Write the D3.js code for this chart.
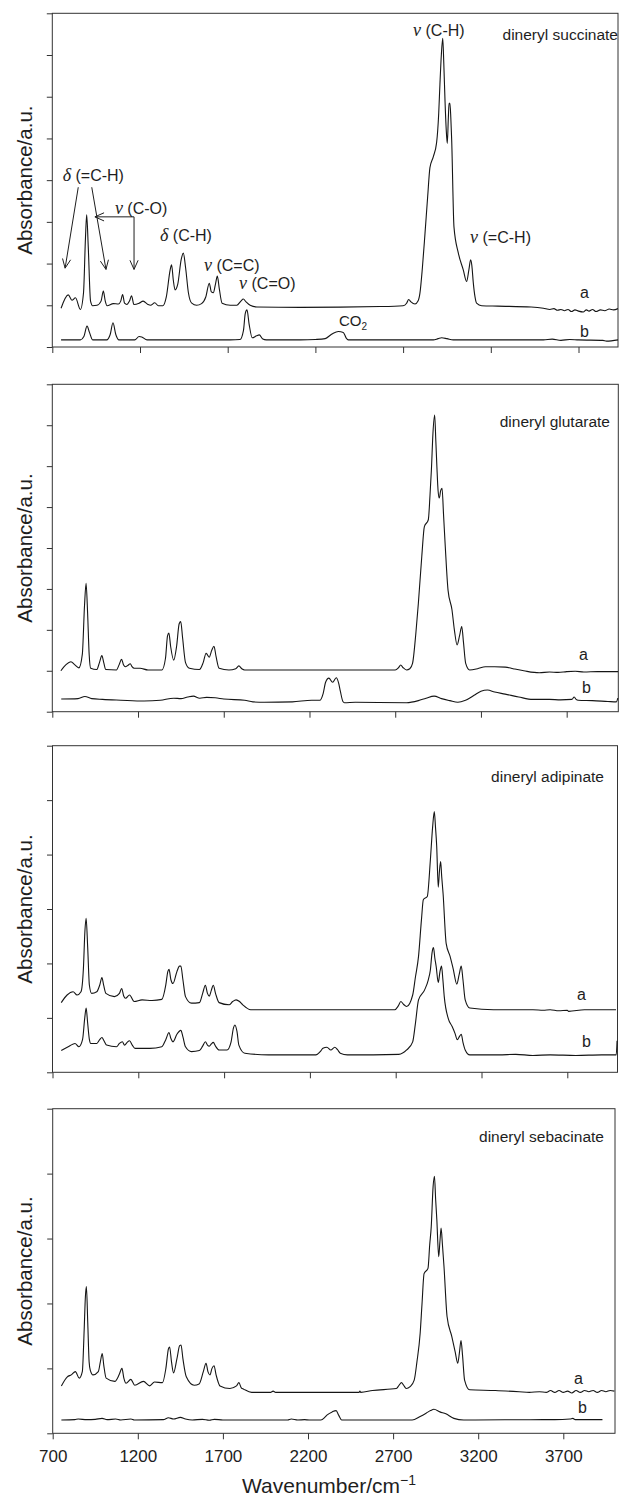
<!DOCTYPE html>
<html>
<head>
<meta charset="utf-8">
<script src="https://cdn.jsdelivr.net/npm/d3@7"></script>
<style>
body { margin: 0; background: #fff; }
svg { display: block; }
text { font-family: "Liberation Sans", Arial, sans-serif; fill: #1e1e1e; }
</style>
</head>
<body>
<svg id="chart" width="619" height="1498"></svg>
<script>
// compound names, one per panel (top to bottom)
var compounds = ["dineryl succinate", "dineryl glutarate", "dineryl adipinate", "dineryl sebacinate"]
var xTickValues = [700, 1200, 1700, 2200, 2700, 3200, 3700]
var yTickCounts = [8, 8, 6, 5]

// spectra: [wavenumber, absorbance (a.u.)], a = upper trace, b = lower trace
var succinateA = [[750,0.93],[791,1.25],[812,1.12],[832,1.18],[860,0.9],[878,1.3],[889,2.6],[896,3.17],[905,2.4],[918,1.1],[930,0.99],[955,1.0],[978,1.1],[991,1.34],[1002,1.1],[1012,0.99],[1048,1.04],[1077,1.03],[1090,1.1],[1101,1.26],[1112,1.05],[1125,1.02],[1140,1.1],[1152,1.23],[1165,1.02],[1195,1.05],[1218,1.1],[1245,1.02],[1260,1.0],[1284,1.06],[1305,0.99],[1331,0.99],[1350,1.2],[1372,1.85],[1380,1.97],[1390,1.6],[1400,1.37],[1415,1.5],[1435,2.1],[1447,2.25],[1460,1.9],[1476,1.3],[1495,1.05],[1523,1.0],[1551,1.04],[1575,1.2],[1595,1.53],[1607,1.32],[1618,1.3],[1630,1.5],[1641,1.7],[1652,1.4],[1668,1.05],[1714,1.0],[1752,1.0],[1775,1.1],[1789,1.15],[1805,1.08],[1828,1.0],[1866,0.96],[2113,0.95],[2569,0.97],[2700,0.99],[2720,1.05],[2732,1.14],[2745,1.08],[2768,1.03],[2785,1.1],[2796,1.29],[2810,1.9],[2825,2.73],[2840,3.6],[2853,4.3],[2872,4.56],[2891,4.9],[2903,5.6],[2910,6.3],[2918,7.0],[2926,7.4],[2932,6.8],[2939,5.9],[2946,5.2],[2952,4.88],[2958,5.5],[2962,5.84],[2967,5.84],[2972,5.5],[2977,4.96],[2990,2.88],[3015,2.25],[3043,1.85],[3062,1.57],[3075,1.85],[3085,2.09],[3092,1.95],[3100,1.55],[3110,1.2],[3119,1.05],[3148,0.99],[3240,0.98],[3430,0.96],[3500,0.93],[3537,0.9],[3560,0.92],[3580,0.88],[3600,0.9],[3620,0.87],[3640,0.9],[3660,0.85],[3680,0.89],[3700,0.86],[3727,0.84],[3745,0.89],[3760,0.86],[3780,0.9],[3800,0.85],[3825,0.89],[3850,0.87],[3875,0.91],[3900,0.89],[3925,0.92]]
var succinateB = [[750,0.17],[860,0.17],[880,0.25],[898,0.5],[912,0.35],[930,0.17],[1010,0.17],[1030,0.3],[1046,0.58],[1062,0.3],[1080,0.17],[1170,0.17],[1195,0.25],[1210,0.24],[1240,0.17],[1714,0.17],[1770,0.18],[1790,0.4],[1800,0.8],[1810,0.89],[1822,0.55],[1840,0.22],[1865,0.27],[1880,0.29],[1900,0.19],[1920,0.17],[2113,0.17],[2200,0.18],[2256,0.2],[2290,0.3],[2302,0.33],[2331,0.37],[2359,0.35],[2375,0.22],[2387,0.17],[2872,0.17],[2900,0.2],[2920,0.22],[2950,0.2],[2986,0.17],[3500,0.17],[3550,0.19],[3600,0.16],[3650,0.18],[3700,0.17],[3839,0.16],[3860,0.14],[3925,0.17]]

var glutarateA = [[750,1.0],[780,1.15],[809,1.22],[830,1.15],[855,1.07],[875,1.4],[888,2.6],[897,3.14],[906,2.4],[915,1.4],[924,1.06],[959,1.03],[975,1.2],[989,1.37],[1000,1.2],[1012,1.03],[1074,1.02],[1090,1.15],[1104,1.28],[1115,1.15],[1127,1.1],[1140,1.13],[1155,1.17],[1165,1.1],[1178,1.06],[1212,1.06],[1258,1.02],[1339,1.02],[1360,1.3],[1372,1.85],[1380,1.92],[1390,1.6],[1408,1.26],[1425,1.6],[1440,2.15],[1449,2.2],[1460,1.8],[1477,1.2],[1500,1.06],[1558,1.03],[1580,1.2],[1597,1.43],[1606,1.38],[1615,1.33],[1630,1.5],[1643,1.6],[1655,1.35],[1673,1.06],[1730,1.02],[1770,1.05],[1788,1.12],[1805,1.05],[1822,1.02],[2605,1.02],[2700,1.02],[2720,1.08],[2732,1.14],[2745,1.08],[2766,1.02],[2785,1.05],[2801,1.18],[2820,1.9],[2835,2.65],[2855,3.8],[2870,4.52],[2893,4.69],[2903,5.3],[2911,5.91],[2920,6.8],[2930,7.25],[2937,6.6],[2943,5.99],[2950,5.4],[2957,5.22],[2965,5.4],[2973,5.46],[2982,4.8],[2992,4.03],[3008,2.97],[3031,2.49],[3045,2.0],[3061,1.63],[3075,1.85],[3088,2.08],[3098,1.7],[3111,1.18],[3134,1.02],[3180,1.05],[3226,1.1],[3280,1.1],[3342,1.09],[3388,1.05],[3450,1.0],[3540,0.95],[3600,0.97],[3650,0.96],[3700,0.98],[3750,0.99],[3800,0.97],[3880,0.98],[3950,0.98],[4000,0.98]]
var glutarateB = [[752,0.31],[850,0.32],[890,0.37],[930,0.32],[993,0.3],[1100,0.28],[1235,0.26],[1330,0.28],[1408,0.33],[1450,0.32],[1490,0.36],[1523,0.38],[1560,0.33],[1600,0.35],[1650,0.34],[1700,0.31],[1822,0.28],[1870,0.24],[1937,0.23],[2100,0.24],[2213,0.28],[2260,0.28],[2280,0.45],[2294,0.72],[2313,0.82],[2335,0.72],[2356,0.83],[2370,0.7],[2380,0.5],[2395,0.25],[2404,0.22],[2467,0.23],[2766,0.22],[2835,0.27],[2880,0.33],[2927,0.38],[2970,0.32],[3019,0.27],[3065,0.23],[3110,0.28],[3160,0.4],[3200,0.5],[3238,0.53],[3280,0.48],[3341,0.43],[3420,0.36],[3502,0.3],[3600,0.3],[3664,0.29],[3730,0.3],[3744,0.36],[3755,0.3],[3767,0.28],[3850,0.27],[3940,0.25],[3990,0.24],[3998,0.33]]

var adipinateA = [[751,1.28],[785,1.42],[820,1.48],[843,1.42],[866,1.48],[880,1.9],[889,2.6],[896,2.83],[905,2.3],[915,1.6],[928,1.45],[958,1.48],[975,1.6],[988,1.74],[998,1.6],[1011,1.45],[1061,1.39],[1090,1.45],[1103,1.54],[1115,1.4],[1126,1.36],[1149,1.42],[1176,1.3],[1222,1.33],[1280,1.32],[1337,1.34],[1360,1.6],[1372,1.85],[1379,1.89],[1390,1.7],[1402,1.63],[1425,1.85],[1440,1.95],[1448,1.95],[1460,1.7],[1475,1.39],[1510,1.27],[1556,1.28],[1575,1.45],[1591,1.6],[1603,1.45],[1614,1.4],[1625,1.5],[1637,1.6],[1650,1.45],[1671,1.28],[1729,1.24],[1750,1.3],[1770,1.33],[1790,1.3],[1809,1.24],[1855,1.15],[1982,1.15],[2200,1.15],[2500,1.15],[2695,1.15],[2715,1.22],[2730,1.3],[2745,1.25],[2764,1.21],[2799,1.42],[2815,1.75],[2833,2.13],[2850,2.8],[2861,3.17],[2884,3.23],[2902,3.9],[2915,4.5],[2925,4.79],[2932,4.5],[2939,4.15],[2948,3.4],[2955,3.7],[2962,3.87],[2968,3.6],[2976,3.29],[2994,2.37],[3017,2.13],[3035,1.9],[3056,1.62],[3070,1.8],[3082,1.95],[3092,1.7],[3105,1.33],[3132,1.18],[3270,1.15],[3500,1.15],[3560,1.14],[3600,1.15],[3650,1.13],[3700,1.14],[3708,1.12],[3800,1.15],[3984,1.15]]
var adipinateB = [[751,0.4],[797,0.48],[831,0.53],[854,0.47],[875,0.6],[888,1.0],[896,1.18],[905,0.9],[915,0.6],[923,0.53],[958,0.53],[975,0.6],[988,0.64],[1000,0.58],[1015,0.5],[1073,0.47],[1090,0.53],[1107,0.56],[1120,0.5],[1135,0.55],[1149,0.58],[1165,0.5],[1181,0.44],[1268,0.44],[1337,0.47],[1360,0.6],[1379,0.73],[1390,0.62],[1402,0.56],[1425,0.7],[1448,0.77],[1460,0.65],[1475,0.47],[1510,0.38],[1556,0.4],[1575,0.48],[1591,0.56],[1603,0.5],[1614,0.48],[1625,0.52],[1637,0.55],[1650,0.48],[1671,0.41],[1717,0.41],[1740,0.55],[1755,0.82],[1763,0.87],[1775,0.75],[1786,0.5],[1821,0.35],[1959,0.32],[2235,0.32],[2260,0.38],[2276,0.44],[2299,0.46],[2322,0.41],[2345,0.46],[2360,0.42],[2377,0.35],[2419,0.32],[2718,0.33],[2764,0.41],[2799,0.56],[2815,0.9],[2833,1.33],[2868,1.51],[2890,1.7],[2902,1.88],[2912,2.2],[2920,2.29],[2928,2.1],[2936,1.94],[2948,1.65],[2958,1.85],[2967,1.95],[2975,1.7],[2983,1.39],[3006,0.99],[3029,0.84],[3045,0.72],[3059,0.6],[3072,0.66],[3082,0.7],[3092,0.55],[3105,0.41],[3132,0.32],[3300,0.32],[3400,0.33],[3500,0.31],[3600,0.32],[3750,0.31],[3900,0.32],[3985,0.32],[3990,0.58]]

var sebacinateA = [[751,0.73],[786,0.87],[809,0.9],[833,0.95],[856,0.85],[874,0.95],[885,1.6],[892,2.1],[898,2.26],[906,1.7],[914,1.1],[921,0.97],[937,0.9],[968,0.95],[980,1.1],[991,1.23],[1000,1.05],[1014,0.85],[1065,0.8],[1090,0.9],[1107,1.0],[1118,0.85],[1131,0.77],[1159,0.83],[1182,0.74],[1233,0.8],[1270,0.73],[1298,0.79],[1345,0.78],[1365,1.0],[1380,1.3],[1387,1.33],[1398,1.1],[1410,0.93],[1430,1.15],[1446,1.35],[1454,1.36],[1465,1.15],[1485,0.87],[1531,0.74],[1560,0.76],[1585,0.95],[1601,1.08],[1612,0.95],[1624,0.9],[1636,1.0],[1648,1.04],[1660,0.9],[1683,0.73],[1741,0.69],[1780,0.73],[1794,0.78],[1808,0.7],[1822,0.68],[1869,0.63],[1980,0.63],[1995,0.65],[2010,0.63],[2500,0.63],[2505,0.65],[2510,0.63],[2579,0.66],[2719,0.69],[2735,0.74],[2749,0.78],[2762,0.74],[2777,0.69],[2800,0.72],[2824,0.82],[2840,1.1],[2859,1.54],[2870,2.0],[2882,2.46],[2905,2.54],[2915,2.9],[2924,3.18],[2935,3.8],[2943,3.96],[2950,3.6],[2957,3.29],[2968,2.72],[2975,2.95],[2982,3.16],[2990,2.9],[2999,2.57],[3017,1.8],[3045,1.49],[3065,1.25],[3080,1.08],[3090,1.25],[3099,1.43],[3108,1.2],[3120,0.82],[3150,0.67],[3301,0.66],[3441,0.64],[3500,0.63],[3560,0.64],[3600,0.63],[3625,0.66],[3650,0.63],[3675,0.66],[3700,0.63],[3725,0.65],[3750,0.62],[3775,0.66],[3800,0.63],[3825,0.66],[3850,0.64],[3875,0.66],[3900,0.63],[3925,0.66],[3950,0.64],[3975,0.66],[4000,0.65]]
var sebacinateB = [[751,0.205],[830,0.21],[850,0.22],[900,0.21],[950,0.215],[990,0.23],[1020,0.21],[1070,0.22],[1100,0.205],[1160,0.22],[1180,0.205],[1350,0.21],[1380,0.24],[1410,0.22],[1450,0.245],[1480,0.22],[1520,0.205],[1580,0.215],[1620,0.2],[1650,0.215],[1700,0.205],[2080,0.205],[2102,0.22],[2140,0.205],[2180,0.21],[2207,0.205],[2276,0.205],[2300,0.25],[2311,0.28],[2342,0.33],[2365,0.35],[2380,0.28],[2398,0.205],[2812,0.205],[2859,0.26],[2894,0.31],[2920,0.35],[2940,0.37],[2975,0.33],[3010,0.3],[3057,0.23],[3115,0.205],[3581,0.21],[3650,0.21],[3740,0.22],[3756,0.23],[3770,0.21],[3930,0.21]]

var seriesA = [succinateA, glutarateA, adipinateA, sebacinateA]
var seriesB = [succinateB, glutarateB, adipinateB, sebacinateB]

// band assignments drawn on the top panel: [symbol, text, wavenumber, absorbance]
var bandLabels = [
    ["δ", " (=C-H)", 759, 3.98],
    ["ν", " (C-O)", 1057, 3.19],
    ["δ", " (C-H)", 1314, 2.54],
    ["ν", " (C=C)", 1565, 1.82],
    ["ν", " (C=O)", 1765, 1.39],
    ["ν", " (C-H)", 2757, 7.46],
    ["ν", " (=C-H)", 3082, 2.49]
]
// arrows: [fromWn, fromAbs, toWn, toAbs]
var bandArrows = [
    [848, 3.83, 773, 1.89],
    [925, 3.83, 1006, 1.86],
    [1166, 3.12, 943, 3.12],
    [1166, 3.12, 1166, 1.86]
]

// page layout (pixels)
var layout = [
    {top: 13.3,  bottom: 347,    left: 52.3, right: 618,   per500: 87.7,  nameX: 618, nameY: 40,    aX: 580, aY: 298,  bX: 580, bY: 336.5},
    {top: 384.3, bottom: 711.7,  left: 52.3, right: 618.3, per500: 85.73, nameX: 610, nameY: 426.5, aX: 579, aY: 660,  bX: 582, bY: 693},
    {top: 745.7, bottom: 1072.3, left: 52.5, right: 617.5, per500: 85.8,  nameX: 604, nameY: 781.5, aX: 577, aY: 1000, bX: 582, bY: 1046.5},
    {top: 1108.7,bottom: 1433.3, left: 52.7, right: 615,   per500: 85.1,  nameX: 604, nameY: 1141.5,aX: 574, aY: 1384, bX: 578, bY: 1412.5}
]

var svg = d3.select("#chart")
var ink = "#1e1e1e"

function drawArrow(g, x1, y1, x2, y2)
{
    g.append("line")
        .attr("x1", x1).attr("y1", y1).attr("x2", x2).attr("y2", y2)
        .attr("stroke", ink).attr("stroke-width", 1)
    var ang = Math.atan2(y2 - y1, x2 - x1)
    var len = 10, spread = 0.42
    var hx1 = x2 - len * Math.cos(ang - spread), hy1 = y2 - len * Math.sin(ang - spread)
    var hx2 = x2 - len * Math.cos(ang + spread), hy2 = y2 - len * Math.sin(ang + spread)
    g.append("path")
        .attr("d", "M" + hx1 + "," + hy1 + "L" + x2 + "," + y2 + "L" + hx2 + "," + hy2)
        .attr("fill", "none").attr("stroke", ink).attr("stroke-width", 1)
}

for(var i = 0; i < layout.length; i++)
{
    var L = layout[i]
    var xMax = 700 + (L.right - L.left) / L.per500 * 500
    var x = d3.scaleLinear().domain([700, xMax]).range([L.left, L.right])
    var y = d3.scaleLinear().domain([0, yTickCounts[i]]).range([L.bottom, L.top])
    var g = svg.append("g")

    // frame
    g.append("rect")
        .attr("x", L.left).attr("y", L.top)
        .attr("width", L.right - L.left).attr("height", L.bottom - L.top)
        .attr("fill", "none").attr("stroke", "#333").attr("stroke-width", 1)

    var yAxis = g.append("g")
        .attr("transform", "translate(" + L.left + ",0)")
        .call(d3.axisLeft(y).tickValues(d3.range(0, yTickCounts[i] + 1)).tickSize(5.5).tickFormat(""))
    yAxis.select(".domain").remove()
    yAxis.selectAll("line").attr("stroke", "#333")

    var xAxis = g.append("g")
        .attr("transform", "translate(0," + L.bottom + ")")
        .call(d3.axisBottom(x).tickValues(xTickValues).tickSize(6).tickPadding(11)
            .tickFormat(i == layout.length - 1 ? d3.format("d") : ""))
    xAxis.select(".domain").remove()
    xAxis.selectAll("line").attr("stroke", "#333")
    xAxis.selectAll("text")
        .style("font-family", "'Liberation Sans', Arial, sans-serif")
        .style("font-size", "17px").attr("fill", ink)

    var line = d3.line()
        .x(function(d){ return x(d[0]) })
        .y(function(d){ return y(d[1]) })
        .curve(d3.curveMonotoneX)

    g.append("path").datum(seriesA[i])
        .attr("d", line).attr("fill", "none").attr("stroke", "#151515").attr("stroke-width", 1.1)
    g.append("path").datum(seriesB[i])
        .attr("d", line).attr("fill", "none").attr("stroke", "#151515").attr("stroke-width", 1.1)

    g.append("text")
        .attr("x", L.nameX).attr("y", L.nameY)
        .attr("text-anchor", "end").style("font-size", "15.5px")
        .text(compounds[i])
    g.append("text").attr("x", L.aX).attr("y", L.aY).style("font-size", "16px").text("a")
    g.append("text").attr("x", L.bX).attr("y", L.bY).style("font-size", "16px").text("b")

    g.append("text")
        .attr("transform", "translate(31.5," + ((L.top + L.bottom) / 2) + ") rotate(-90)")
        .attr("text-anchor", "middle").style("font-size", "20.5px")
        .text("Absorbance/a.u.")

    if(i == 0)
    {
        for(var j = 0; j < bandLabels.length; j++)
        {
            var bl = bandLabels[j]
            var t = g.append("text")
                .attr("x", x(bl[2])).attr("y", y(bl[3]))
                .style("font-size", "16px")
            t.append("tspan")
                .style("font-family", "'Liberation Serif', 'DejaVu Serif', serif")
                .style("font-style", "italic")
                .style("font-size", "18px")
                .text(bl[0])
            t.append("tspan").text(bl[1])
        }
        for(var k = 0; k < bandArrows.length; k++)
        {
            var ar = bandArrows[k]
            drawArrow(g, x(ar[0]), y(ar[1]), x(ar[2]), y(ar[3]))
        }
        var co2 = g.append("text")
            .attr("x", x(2334)).attr("y", y(0.5))
            .style("font-size", "15px")
        co2.append("tspan").text("CO")
        co2.append("tspan").attr("dy", 4).style("font-size", "10px").text("2")
    }
}

// x axis title
var xt = svg.append("text")
    .attr("x", 329).attr("y", 1492.5)
    .attr("text-anchor", "middle").style("font-size", "21px")
xt.append("tspan").text("Wavenumber/cm")
xt.append("tspan").attr("dy", -8).style("font-size", "14px").text("−1")
</script>
</body>
</html>
